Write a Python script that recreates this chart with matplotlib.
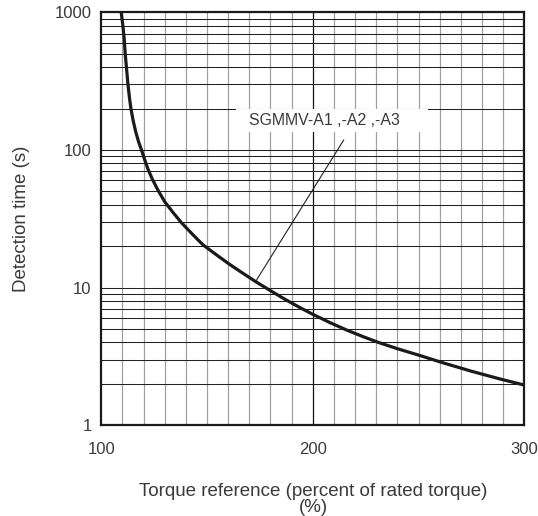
import numpy as np
import matplotlib
matplotlib.use('Agg')
import matplotlib.pyplot as plt
from matplotlib.patches import Rectangle

plt.rcParams['font.family'] = ['Liberation Sans', 'DejaVu Sans']

# curve
torque = [109.4, 110.2, 110.8, 111.3, 112.0, 112.6, 113.3, 114.0, 115.0, 116.3,
          117.6, 119.0, 120.5, 122.0, 124.0, 126.5, 130, 134, 138, 143,
          148, 154, 160, 166, 173, 180, 187, 194, 200, 208,
          216, 224, 231, 240, 251, 262, 275, 288, 300]
det_time = [1000, 800, 650, 500, 380, 300, 240, 200, 165, 135,
            115, 100, 85, 73, 62, 52, 42, 35, 29.5, 24.5,
            20.5, 17.5, 15.0, 13.0, 11.05, 9.5, 8.2, 7.15, 6.4, 5.58,
            4.92, 4.39, 4.0, 3.6, 3.2, 2.83, 2.47, 2.18, 1.96]

xticks = [100, 200, 300]
yticks = [1, 10, 100, 1000]
label = 'SGMMV-A1 ,-A2 ,-A3'
label_at = (205.3, 165)
label_box = (163.7, 135, 254.5, 198)
leader_from = (173, 11.1)
leader_to = (214.6, 118)

txt = '#3a3a3a'
fig = plt.figure(figsize=(5.38, 5.16), dpi=100)
ax = fig.add_axes([0.1883, 0.1758, 0.7862, 0.8004])
ax.set_yscale('log')
ax.set_xlim(100, 300)
ax.set_ylim(1, 1000)

# grid
for xv in range(110, 300, 10):
    if xv == 200:
        ax.axvline(xv, color='#111111', lw=0.9, zorder=1)
    else:
        ax.axvline(xv, color='#a0a0a0', lw=0.9, zorder=1)
for dec in [1, 10, 100]:
    for m in range(1, 10):
        v = dec * m
        if v == 1:
            continue
        ax.axhline(v, color='#222222', lw=0.75, zorder=1)

ax.plot(torque, det_time, color='#1a1a1a', lw=2.3, solid_joinstyle='round',
        solid_capstyle='butt', zorder=3)

ax.plot([leader_from[0], leader_to[0]], [leader_from[1], leader_to[1]],
        color='#222222', lw=0.8, zorder=3)
x0, y0, x1, y1 = label_box
ax.add_patch(Rectangle((x0, y0), x1 - x0, y1 - y0, fc='white', ec='none', zorder=2))
ax.text(label_at[0], label_at[1], label, ha='center', va='center',
        fontsize=11.4, color=txt, zorder=4)

ax.set_xticks(xticks)
ax.set_xticklabels([str(v) for v in xticks])
ax.set_yticks(yticks)
ax.set_yticklabels([str(v) for v in yticks])
ax.yaxis.set_minor_locator(matplotlib.ticker.NullLocator())
ax.tick_params(length=0, labelsize=12, labelcolor=txt)
ax.tick_params(axis='x', pad=12)
ax.tick_params(axis='y', pad=7)
for s in ax.spines.values():
    s.set_linewidth(1.6)
    s.set_color('#1a1a1a')
    s.set_zorder(5)

ax.set_ylabel('Detection time (s)', fontsize=13.5, color=txt, labelpad=18)
fig.text(0.582, 0.032, 'Torque reference (percent of rated torque)\n(%)',
         ha='center', va='center', fontsize=13.5, color=txt, linespacing=0.95)

fig.savefig('out.png', dpi=100)
